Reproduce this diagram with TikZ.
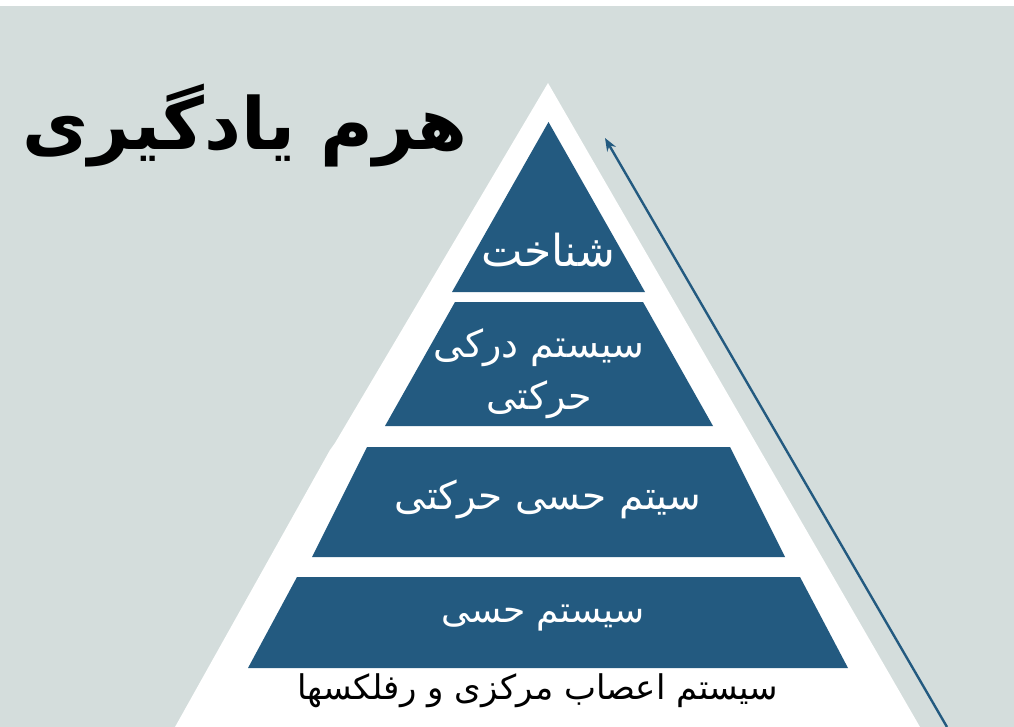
\documentclass[tikz,border=0pt]{standalone}
\usepackage{fontspec}
\usetikzlibrary{arrows.meta}
\TeXXeTstate=1
\newfontfamily\arabicfont[Script=Arabic]{DejaVu Sans}
\definecolor{bggray}{HTML}{D4DDDC}
\definecolor{pblue}{HTML}{235A80}
\begin{document}
\begin{tikzpicture}[x=1pt,y=-1pt,
  band/.style={fill=pblue,draw=none},
  btxt/.style={text=white,font=\arabicfont\fontsize{38}{44}\selectfont,inner sep=0pt},
  dtxt/.style={text=black,font=\arabicfont\fontsize{34}{40}\selectfont,inner sep=0pt},
  ttl/.style={text=black,font=\arabicfont\bfseries\fontsize{72}{80}\selectfont,inner sep=0pt}]
\useasboundingbox (0,0) rectangle (1014,727);
\fill[white] (0,0) rectangle (1014,727);
\fill[bggray] (0,6) rectangle (1014,727);
% white pyramid
\fill[white] (548,83) -- (920,727) -- (175,727)
  -- (330,450) -- (335,443) -- cycle;
% bands
\fill[band] (548.5,122) -- (645,292) -- (452,292) -- cycle;
\fill[band] (455,302) -- (643,302) -- (713,426) -- (385,426) -- cycle;
\fill[band] (367,447) -- (730,447) -- (785,557) -- (312,557) -- cycle;
\fill[band] (297,577) -- (800,577) -- (848,668) -- (248,668) -- cycle;
% texts
\node[ttl] (title) at (245,126) {\beginR هرم یادگیری\endR};
\node[btxt,font=\arabicfont\fontsize{44}{50}\selectfont] (t1) at (548,250) {\beginR شناخت\endR};
\node[btxt] (t2a) at (539,348) {\beginR سیستم درکی\endR};
\node[btxt] (t2b) at (539,400) {\beginR حرکتی\endR};
\node[btxt,font=\arabicfont\fontsize{39}{46}\selectfont] (t3) at (548,499) {\beginR سیتم حسی حرکتی\endR};
\node[btxt,font=\arabicfont\fontsize{36}{42}\selectfont] (t4) at (543,618) {\beginR سیستم حسی\endR};
\node[dtxt] (t5) at (538,691) {\beginR سیستم اعصاب مرکزی و رفلکسها\endR};
% arrow
\coordinate (arrS) at (947,727);
\coordinate (arrE) at (605,138);
\draw[pblue,line width=2.4pt,-{Stealth[length=13pt,width=10pt]}] (arrS) -- (arrE);
\end{tikzpicture}
\end{document}
